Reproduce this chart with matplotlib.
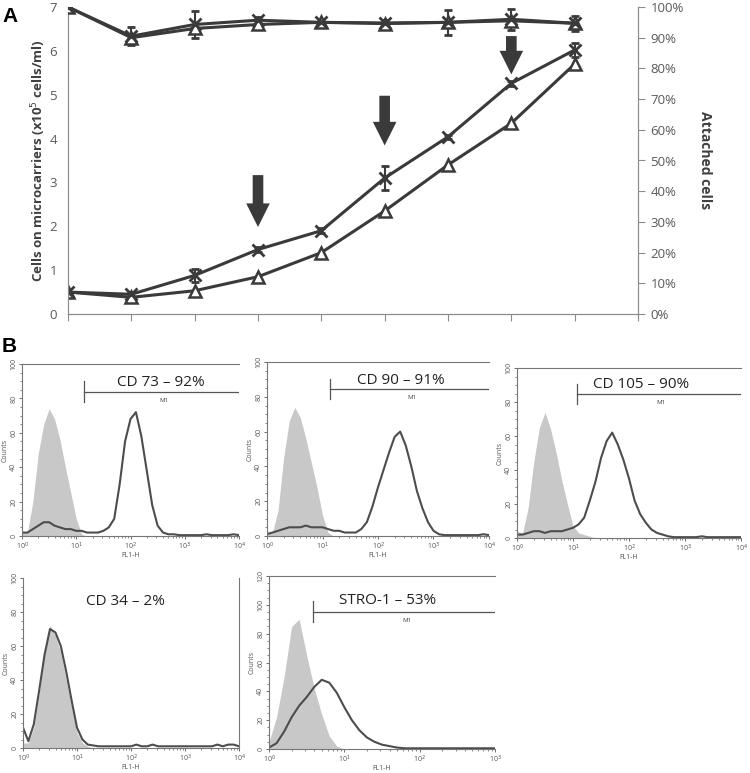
import numpy as np
import matplotlib.pyplot as plt
from matplotlib.ticker import FixedLocator, LogLocator, NullFormatter

plt.rcParams['font.family'] = ['Open Sans', 'DejaVu Sans']

# ---- Panel A data ----
days = [0, 1, 2, 3, 4, 5, 6, 7, 8]
attached_x = [100, 90.5, 94.3, 95.7, 95.0, 94.8, 95.0, 96.0, 94.7]
attached_x_err = [0, 3, 4.5, 1, 0.5, 1, 4, 3.5, 2.5]
attached_tri = [100, 90.0, 93.0, 94.3, 95.0, 94.6, 95.0, 95.5, 94.7]
cells_x = [0.5, 0.45, 0.88, 1.47, 1.9, 3.1, 4.04, 5.26, 6.02]
cells_x_err = [0, 0.05, 0.15, 0.05, 0.05, 0.28, 0.05, 0.05, 0.15]
cells_tri = [0.5, 0.38, 0.53, 0.85, 1.4, 2.35, 3.4, 4.35, 5.7]
arrow_days = [3, 5, 7]
arrow_top = [3.23, 5.04, 6.4]
arrow_tip = [1.92, 3.78, 5.4]

# ---- Panel B data (counts read on a log10 grid of 0.1) ----
grid4 = np.round(np.arange(0, 4.01, 0.1), 1)
grid3 = np.round(np.arange(0, 3.01, 0.1), 1)

cd73_iso = [3, 2, 20, 48, 65, 74, 68, 56, 40, 25, 10, 1] + [0] * 29
cd73 = ([2, 2, 4, 6, 8, 8, 6, 5, 4, 4, 3, 3, 2, 2, 2]
        + [3, 5, 10, 30, 55, 68, 72, 58, 38, 18, 6, 2]
        + [1, 1, 0.5, 0.5, 0.5, 0.5, 0.5, 1, 0.5, 0.5, 0.5, 0.5, 1, 0.5])
cd90_iso = [3, 2, 15, 45, 66, 74, 68, 56, 42, 28, 12, 2] + [0] * 29
cd90 = ([1, 2, 3, 4, 5, 5, 5, 6, 5, 5, 5, 4, 3, 3, 2, 2, 2]
        + [4, 8, 17, 28, 38, 48, 57, 60, 52, 40, 26, 16, 8, 3, 1]
        + [0.5, 0.5, 0.5, 0.5, 0.5, 0.5, 0.5, 1, 0.5])
cd105_iso = [4, 3, 18, 45, 65, 74, 64, 50, 34, 20, 7, 3, 2, 1] + [0] * 27
cd105 = ([2, 2, 3, 4, 4, 3, 4, 4, 4, 5]
         + [6, 8, 12, 22, 33, 47, 57, 62, 55, 46, 35, 22, 14, 9, 5, 3, 2, 1]
         + [0.5, 0.5, 0.5, 0.5, 0.5, 1, 0.5, 0.5, 0.5, 0.5, 0.5, 0.5, 0.5])
cd34_iso = [3, 3, 12, 32, 55, 72, 66, 56, 40, 24, 9, 3, 1] + [0] * 28
cd34 = ([12, 4, 14, 34, 55, 70, 68, 60, 45, 28, 12, 5, 2, 1.5]
        + [1, 1, 1, 1, 1, 1, 1, 2, 1, 1, 2, 1, 1, 1, 1, 1, 1, 1, 1, 1, 1, 1, 2, 1, 2, 2, 1])
stro_iso = [5, 22, 50, 85, 90, 65, 42, 24, 9, 2] + [0] * 21
stro = ([1, 4, 12, 22, 30, 36, 43, 48, 46, 39, 29, 20, 13, 8, 5, 3, 2, 1]
        + [0.5] * 13)

W, H = 750, 773
fig = plt.figure(figsize=(W / 100, H / 100), dpi=100)

def frac(left, top, right, bottom):
    return [left / W, 1 - bottom / H, (right - left) / W, (bottom - top) / H]

dark = '#3a3a3a'
tick_c = '#595959'
axis_c = '#8c8c8c'

# ---- Panel A ----
ax = fig.add_axes(frac(68, 7, 638, 314))
ax2 = ax.twinx()
ax.set_xlim(0, 9)
ax.set_ylim(0, 7)
ax2.set_ylim(0, 100)
ax.set_xticks(range(10))
ax.set_xticklabels([])
ax.set_yticks(range(8))
ax2.set_yticks(range(0, 101, 10))
ax2.set_yticklabels([f'{v}%' for v in range(0, 101, 10)])
for a in (ax, ax2):
    a.spines['top'].set_visible(False)
    for s in ('left', 'right', 'bottom'):
        a.spines[s].set_color(axis_c)
    a.tick_params(colors=axis_c, labelcolor=tick_c, labelsize=9.5, length=5)
ax.tick_params(axis='y', length=0, pad=8)
ax2.tick_params(axis='y', length=5, pad=4)

ax.errorbar(days, cells_x, yerr=cells_x_err, color=dark, lw=2.2, marker='x',
            ms=9, mew=2, capsize=3, elinewidth=1.5, zorder=3)
ax.plot(days, cells_tri, color=dark, lw=2.2, marker='^', ms=8,
        mfc='white', mec=dark, mew=1.8, zorder=3)
ax2.errorbar(days, attached_x, yerr=attached_x_err, color=dark, lw=2.2, marker='x',
             ms=9, mew=2, capsize=3, elinewidth=1.5, zorder=3)
ax2.plot(days, attached_tri, color=dark, lw=2.2, marker='^', ms=8,
         mfc='white', mec=dark, mew=1.8, zorder=3)

for d, t0, t1 in zip(arrow_days, arrow_top, arrow_tip):
    ax.annotate('', xy=(d, t1), xytext=(d, t0),
                arrowprops=dict(arrowstyle='simple,head_length=1.0,head_width=1.0,tail_width=0.45',
                                mutation_scale=17, color=dark, lw=0))

ax.set_ylabel('Cells on microcarriers (x10$^5$ cells/ml)', fontsize=9.5,
              fontweight='bold', color='#404040', labelpad=1)
ax2.set_ylabel('Attached cells', fontsize=10, fontweight='bold',
               color='#404040', rotation=-90, labelpad=20)

fig.text(2 / W, 1 - 16 / H, 'A', fontsize=15, fontweight='bold',
         family='Liberation Sans', va='center')
fig.text(2 / W, 1 - 347 / H, 'B', fontsize=15, fontweight='bold',
         family='Liberation Sans', va='center')

# ---- Panel B ----
hist_panels = [
    (frac(22, 364, 239, 536), grid4, cd73_iso, cd73, 'CD 73 – 92%', (10 ** 2.56, 89), (14, 84), 100, 'tr'),
    (frac(267, 362, 489, 536), grid4, cd90_iso, cd90, 'CD 90 – 91%', (10 ** 2.41, 89.5), (13.6, 84.5), 100, 'tr'),
    (frac(517, 368, 741, 538), grid4, cd105_iso, cd105, 'CD 105 – 90%', (10 ** 2.21, 90.5), (11.8, 84.7), 100, 'tr'),
    (frac(23, 578, 239, 748), grid4, cd34_iso, cd34, 'CD 34 – 2%', (10 ** 1.89, 86), None, 100, 'r'),
    (frac(269, 576, 495, 749), grid3, stro_iso, stro, 'STRO-1 – 53%', (10 ** 1.57, 103), (3.8, 95.3), 120, 'tr'),
]

for rect, grid, iso, marker, label, lpos, gate, ymax, frame in hist_panels:
    bx = fig.add_axes(rect)
    xs = 10 ** grid
    bx.fill_between(xs, 0, iso, color='#c8c8c8', lw=0, zorder=1)
    bx.plot(xs, marker, color='#4d4d4d', lw=1.5, zorder=2)
    bx.set_xscale('log')
    bx.set_xlim(xs[0], xs[-1])
    bx.set_ylim(0, ymax)
    bx.set_yticks(range(0, ymax + 1, 20))
    bx.yaxis.set_minor_locator(FixedLocator(range(0, ymax + 1, 5)))
    bx.xaxis.set_major_locator(LogLocator(base=10))
    bx.xaxis.set_minor_locator(LogLocator(base=10, subs=range(2, 10)))
    bx.xaxis.set_minor_formatter(NullFormatter())
    bx.set_xticks(xs[::10])
    bx.set_xticklabels([f'10$^{{{int(round(g))}}}$' for g in grid[::10]])
    bx.tick_params(labelsize=5, colors='#555555', length=2.5, width=0.6, pad=1)
    bx.tick_params(which='minor', length=1.5, width=0.5, colors='#555555')
    for t in bx.get_yticklabels():
        t.set_rotation(90)
        t.set_va('center')
    bx.set_ylabel('Counts', fontsize=5, color='#555555', labelpad=1)
    bx.set_xlabel('FL1-H', fontsize=5, color='#555555', labelpad=0)
    for s in bx.spines.values():
        s.set_color('#777777')
        s.set_linewidth(0.8)
    bx.spines['top'].set_visible('t' in frame)
    bx.spines['right'].set_visible(frame == 'r')
    bx.text(lpos[0], lpos[1], label, fontsize=11, color='#222222',
            ha='center', va='center')
    if gate is not None:
        g0, gy = gate
        bx.plot([g0, xs[-1]], [gy, gy], color='#555555', lw=0.9)
        bx.plot([g0, g0], [gy - 0.06 * ymax, gy + 0.06 * ymax], color='#555555', lw=0.9)
        bx.text(np.sqrt(g0 * xs[-1]) * 1.1, gy - 0.05 * ymax, 'M1', fontsize=4.5,
                color='#444444', ha='center', va='center')

fig.savefig('out.png', dpi=100)
